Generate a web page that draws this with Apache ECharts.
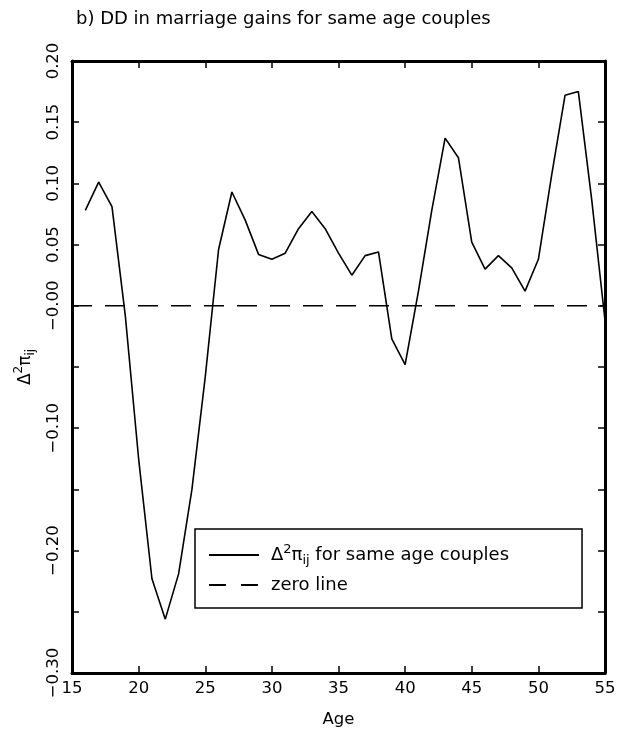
<!DOCTYPE html>
<html>
<head>
<meta charset="utf-8">
<title>DD in marriage gains</title>
<script src="https://cdn.jsdelivr.net/npm/echarts@6/dist/echarts.min.js"></script>
<style>
  html, body { margin: 0; padding: 0; background: #fff; }
  #chart { width: 628px; height: 738px; }
</style>
</head>
<body>
<div id="chart"></div>
<script>
// ages on the x axis
const ages = [16, 17, 18, 19, 20, 21, 22, 23, 24, 25, 26, 27, 28, 29, 30, 31, 32, 33, 34, 35,
  36, 37, 38, 39, 40, 41, 42, 43, 44, 45, 46, 47, 48, 49, 50, 51, 52, 53, 54, 55]
// Δ²π_ij for same age couples
const gains = [0.078, 0.101, 0.081, -0.008, -0.125, -0.223, -0.256, -0.219, -0.150, -0.058,
  0.046, 0.093, 0.070, 0.042, 0.038, 0.043, 0.063, 0.077, 0.063, 0.043,
  0.025, 0.041, 0.044, -0.027, -0.048, 0.012, 0.078, 0.137, 0.121, 0.052,
  0.030, 0.041, 0.031, 0.012, 0.038, 0.107, 0.172, 0.175, 0.087, -0.012]
// zero reference line
const zeroAges = [15, 55]
const zeroValues = [0, 0]
// y tick labels (ticks every 0.05, only these get text)
const yTickValues = [0.20, 0.15, 0.10, 0.05, 0, -0.10, -0.20, -0.30]
const yTickLabels = ['0.20', '0.15', '0.10', '0.05', '\u22120.00', '\u22120.10', '\u22120.20', '\u22120.30']

const font = 'DejaVu Sans'
const black = '#000'

function yLabel(v) {
  for (let i = 0; i < yTickValues.length; i++) {
    if (Math.abs(yTickValues[i] - v) < 1e-6) return yTickLabels[i]
  }
  return ''
}

function richStyle(size) {
  return {
    a: { fontFamily: font, fontSize: size, color: black, lineHeight: 24, verticalAlign: 'middle' },
    sup: { fontFamily: font, fontSize: Math.round(size * 0.7), color: black, lineHeight: 24, verticalAlign: 'top' },
    sub: { fontFamily: font, fontSize: Math.round(size * 0.7), color: black, lineHeight: 24, verticalAlign: 'bottom' }
  }
}

const frameLine = { show: true, onZero: false, lineStyle: { color: black, width: 3 } }
const tick = { show: true, inside: true, length: 7, lineStyle: { color: black, width: 1.5 } }

const chart = echarts.init(document.getElementById('chart'))
chart.setOption({
  animation: false,
  backgroundColor: '#fff',
  title: {
    text: 'b) DD in marriage gains for same age couples',
    left: 71,
    top: 5,
    textStyle: { fontFamily: font, fontSize: 18, fontWeight: 'normal', color: black }
  },
  grid: { left: 72, right: 23, top: 61, bottom: 65 },
  legend: {
    orient: 'vertical',
    left: 195,
    top: 529,
    padding: [14, 73, 14, 13],
    itemGap: 9,
    itemWidth: 50,
    itemHeight: 14,
    borderColor: black,
    borderWidth: 1.5,
    // hide the marker dot, keep just the line sample
    itemStyle: { color: 'rgba(0,0,0,0)', borderWidth: 0 },
    textStyle: { fontFamily: font, fontSize: 18, color: black, padding: [0, 0, 0, 7], rich: richStyle(18) },
    data: [
      { name: 'gain' },
      { name: 'zero', lineStyle: { type: [17, 15] } }
    ],
    formatter: function (name) {
      if (name === 'gain') return '{a|\u0394}{sup|2}{a|\u03c0}{sub|ij}{a| for same age couples}'
      return '{a|zero line}'
    }
  },
  xAxis: [
    {
      type: 'value',
      position: 'bottom',
      min: 15,
      max: 55,
      interval: 5,
      name: 'Age',
      nameLocation: 'middle',
      nameGap: 38,
      nameTextStyle: { fontFamily: font, fontSize: 16.5, color: black },
      axisLine: frameLine,
      axisTick: tick,
      axisLabel: { margin: 7, fontFamily: font, fontSize: 16.5, color: black },
      splitLine: { show: false }
    },
    {
      type: 'value',
      position: 'top',
      min: 15,
      max: 55,
      interval: 5,
      axisLine: frameLine,
      axisTick: tick,
      axisLabel: { show: false },
      splitLine: { show: false }
    }
  ],
  yAxis: [
    {
      type: 'value',
      position: 'left',
      min: -0.3,
      max: 0.2,
      interval: 0.05,
      name: '{a|\u0394}{sup|2}{a|\u03c0}{sub|ij}',
      nameLocation: 'middle',
      nameRotate: 90,
      nameGap: 29,
      nameTextStyle: { rich: richStyle(17) },
      axisLine: frameLine,
      axisTick: tick,
      axisLabel: {
        rotate: 90,
        margin: 10,
        fontFamily: font,
        fontSize: 16.5,
        color: black,
        showMinLabel: true,
        showMaxLabel: true,
        formatter: yLabel
      },
      splitLine: { show: false }
    },
    {
      type: 'value',
      position: 'right',
      min: -0.3,
      max: 0.2,
      interval: 0.05,
      axisLine: frameLine,
      axisTick: tick,
      axisLabel: { show: false },
      splitLine: { show: false }
    }
  ],
  series: [
    {
      name: 'gain',
      type: 'line',
      symbol: 'none',
      xAxisIndex: 0,
      yAxisIndex: 0,
      lineStyle: { color: black, width: 1.6 },
      itemStyle: { color: black },
      data: ages.map((a, i) => [a, gains[i]])
    },
    {
      name: 'zero',
      type: 'line',
      symbol: 'none',
      xAxisIndex: 0,
      yAxisIndex: 0,
      lineStyle: { color: black, width: 1.6, type: [20, 13] },
      itemStyle: { color: black },
      data: zeroAges.map((a, i) => [a, zeroValues[i]])
    }
  ]
})
</script>
</body>
</html>
